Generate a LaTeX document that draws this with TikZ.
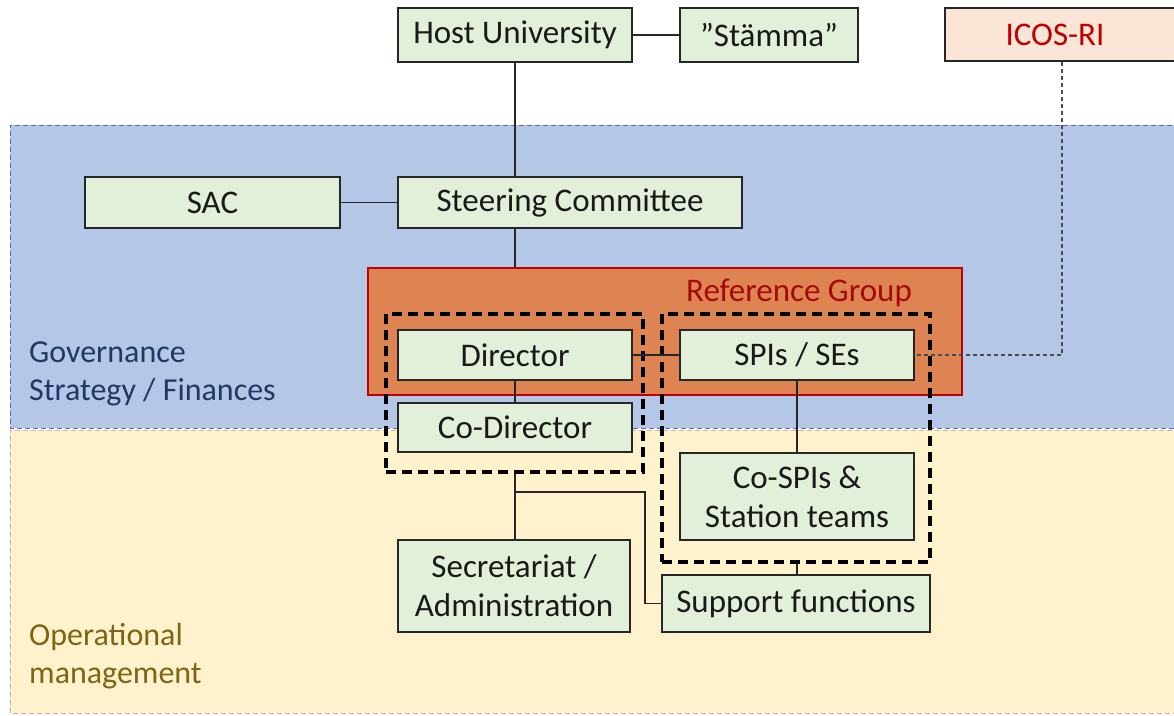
\documentclass[tikz,border=0pt]{standalone}
\usepackage{fontspec}
\setmainfont{Carlito}
\begin{document}
\begin{tikzpicture}[x=1pt,y=-1pt,
  box/.style={draw=black!85, line width=1.4pt, fill=boxgreen, inner sep=0pt, align=center, text=black!90, font=\fontsize{33}{39}\selectfont},
  grp/.style={draw=black, line width=3.2pt, dash pattern=on 10pt off 6pt},
  conn/.style={draw=black!85, line width=1.2pt},
  band/.style={dash pattern=on 5pt off 3pt, line width=1pt}
]
\definecolor{boxgreen}{RGB}{226,240,217}
\definecolor{bandblue}{RGB}{180,199,231}
\definecolor{bandyellow}{RGB}{255,242,204}
\definecolor{refor}{RGB}{222,132,82}
\definecolor{darkred}{RGB}{192,0,0}
\definecolor{refred}{RGB}{165,10,10}
\definecolor{govblue}{RGB}{32,56,100}
\definecolor{opolive}{RGB}{128,100,20}
\definecolor{icosfill}{RGB}{251,229,214}
\useasboundingbox (0,0) rectangle (1174,715);
\fill[white] (0,0) rectangle (1174,715);
% bands
\path[fill=bandblue] (10,125) rectangle (1180,428);
\draw[band, draw=black!20!blue!50!bandblue] (1180,125) -- (10,125) -- (10,428) -- (1180,428);
\path[fill=bandyellow] (10,430) rectangle (1180,713);
\draw[band, draw=black!25!bandyellow] (1180,430) -- (10,430) -- (10,713) -- (1180,713);
\node[font=\fontsize{32}{38}\selectfont, text=govblue, align=left, anchor=west, inner sep=0pt] (govlbl) at (29,374) {Governance\\Strategy / Finances};
\node[font=\fontsize{32}{38}\selectfont, text=opolive, align=left, anchor=west, inner sep=0pt] (oplbl) at (29,656) {Operational\\management};
% reference group
\node[draw=darkred, line width=1.6pt, fill=refor, minimum width=594pt, minimum height=127pt, inner sep=0pt] (ref) at (665,331.5) {};
\node[text=refred, font=\fontsize{33}{39}\selectfont, anchor=east, inner sep=0pt] (reflbl) at (912,293) {Reference Group};
% top boxes
\node[box, minimum width=234pt, minimum height=54pt] (host) at (515,35) {Host University};
\node[box, minimum width=178pt, minimum height=54pt] (stamma) at (769,35) {”Stämma”};
\node[box, fill=icosfill, minimum width=240pt, minimum height=53pt] (icos) at (1065,34.5) {};
\node[text=darkred, font=\fontsize{33}{39}\selectfont, inner sep=0pt] (icoslbl) at (1055,34.5) {ICOS-RI};
\node[box, minimum width=255pt, minimum height=51pt] (sac) at (212.5,202.5) {SAC};
\node[box, minimum width=344pt, minimum height=51pt] (steer) at (570,202.5) {Steering Committee};
\node[box, minimum width=234pt, minimum height=50pt] (dir) at (515,355) {Director};
\node[box, minimum width=234pt, minimum height=50pt] (spis) at (797,355) {SPIs / SEs};
\node[box, minimum width=234pt, minimum height=49pt] (codir) at (515,427.5) {Co-Director};
\node[box, minimum width=234pt, minimum height=87pt] (cospis) at (797,496.5) {Co-SPIs \&\\Station teams};
\node[box, minimum width=232pt, minimum height=92pt] (secr) at (514,586) {Secretariat /\\Administration};
\node[box, minimum width=268pt, minimum height=57pt] (supp) at (796,603.5) {Support functions};
% dashed groups
\node[grp, minimum width=257pt, minimum height=158pt, inner sep=0pt] (lgrp) at (514.5,393) {};
\node[grp, minimum width=268pt, minimum height=248pt, inner sep=0pt] (rgrp) at (796,438) {};
% connectors
\draw[conn] (host) -- (stamma);
\draw[conn] (host.south) -- (host.south |- steer.north);
\draw[conn] (sac) -- (steer);
\draw[conn] (host.south |- steer.south) -- (host.south |- ref.north);
\draw[conn] (dir) -- (spis);
\draw[conn] (dir) -- (codir);
\draw[conn] (spis) -- (cospis);
\coordinate (br) at (515,492);
\draw[conn] (lgrp.south -| dir) -- (secr.north -| dir);
\draw[conn] (br) -- (645,492) |- (supp.west);
\draw[conn] (rgrp.south -| spis) -- (supp.north -| spis);
\coordinate (icosdrop) at (1062,355);
\draw[black!70, line width=1.1pt, dash pattern=on 4pt off 3pt] (icos.south -| icosdrop) -- (icosdrop) -- (spis.east);
\end{tikzpicture}
\end{document}
